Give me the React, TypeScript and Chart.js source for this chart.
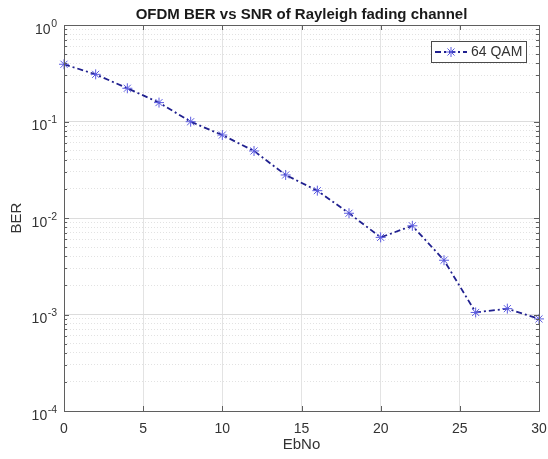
import React, { useEffect, useRef } from "react";
import { Chart, registerables } from "chart.js";

Chart.register(...registerables);

// ---- data ----
const ebno = [0, 2, 4, 6, 8, 10, 12, 14, 16, 18, 20, 22, 24, 26, 28, 30];
const ber = [0.392, 0.308, 0.221, 0.157, 0.0995, 0.0724, 0.0495, 0.0279, 0.0192, 0.0112, 0.0063, 0.0083, 0.00365, 0.00105, 0.00115, 0.0009];
const seriesLabel = "64 QAM";
const chartTitle = "OFDM BER vs SNR of Rayleigh fading channel";
const xTitle = "EbNo";
const yTitle = "BER";
const xTickValues = [0, 5, 10, 15, 20, 25, 30];
const yDecadeExponents = [-4, -3, -2, -1, 0];
const yMinorMantissas = [2, 3, 4, 5, 6, 7, 8, 9];

const FONT = "'Liberation Sans', Arial, Helvetica, sans-serif";
const TEXT = "#333333";
const LINE_COLOR = "#20208f";
const MARKER_COLOR = "#5c5ce0";
const DASH = [6, 3, 2, 3];

const isDecade = (v: number) => Math.abs(Math.log10(v) - Math.round(Math.log10(v))) < 1e-9;

function buildYTicks() {
  const out: { value: number; major: boolean }[] = [];
  yDecadeExponents.forEach((e, i) => {
    out.push({ value: Math.pow(10, e), major: true });
    if (i < yDecadeExponents.length - 1) {
      yMinorMantissas.forEach((m) => out.push({ value: m * Math.pow(10, e), major: false }));
    }
  });
  return out.sort((a, b) => a.value - b.value);
}

const decorPlugin = {
  id: "decor",
  afterDatasetsDraw(chart: any) {
    const { ctx, chartArea: a } = chart;
    const xs = chart.scales.x;
    const ys = chart.scales.y;
    ctx.save();
    ctx.strokeStyle = "#5f5f5f";
    ctx.lineWidth = 1;
    ctx.setLineDash([]);
    // inward tick marks
    ctx.beginPath();
    ys.ticks.forEach((t: any) => {
      const y = Math.round(ys.getPixelForValue(t.value)) + 0.5;
      const len = isDecade(t.value) ? 5 : 3;
      ctx.moveTo(a.left, y);
      ctx.lineTo(a.left + len, y);
      ctx.moveTo(a.right, y);
      ctx.lineTo(a.right - len, y);
    });
    xs.ticks.forEach((t: any) => {
      const x = Math.round(xs.getPixelForValue(t.value)) + 0.5;
      ctx.moveTo(x, a.bottom);
      ctx.lineTo(x, a.bottom - 5);
      ctx.moveTo(x, a.top);
      ctx.lineTo(x, a.top + 5);
    });
    ctx.stroke();
    // box
    ctx.strokeRect(Math.round(a.left) + 0.5, Math.round(a.top) + 0.5, Math.round(a.right - a.left), Math.round(a.bottom - a.top));
    ctx.restore();
  },
  afterDraw(chart: any) {
    const { ctx, chartArea: a } = chart;
    const ys = chart.scales.y;
    ctx.save();
    // title
    ctx.fillStyle = "#1a1a1a";
    ctx.font = `bold 15px ${FONT}`;
    ctx.textAlign = "center";
    ctx.textBaseline = "middle";
    ctx.fillText(chartTitle, (a.left + a.right) / 2, 15);

    // y tick labels 10^n
    ctx.fillStyle = TEXT;
    ys.ticks.forEach((t: any) => {
      if (!isDecade(t.value)) return;
      const y = ys.getPixelForValue(t.value);
      const exp = String(Math.round(Math.log10(t.value)));
      ctx.font = `10.5px ${FONT}`;
      const ew = ctx.measureText(exp).width;
      const xr = a.left - 7;
      ctx.textAlign = "left";
      ctx.textBaseline = "alphabetic";
      ctx.fillText(exp, xr - ew, y + 1.5);
      ctx.font = `14px ${FONT}`;
      ctx.textAlign = "right";
      ctx.fillText("10", xr - ew - 0.5, y + 8.5);
    });

    // legend
    const ds = chart.data.datasets[0];
    const lx = a.right - 108, ly = 41, lw = 95, lh = 21;
    ctx.fillStyle = "#ffffff";
    ctx.fillRect(lx, ly, lw, lh);
    ctx.strokeStyle = "#4a4a4a";
    ctx.lineWidth = 1;
    ctx.strokeRect(lx + 0.5, ly + 0.5, lw, lh);
    const cy = ly + lh / 2 + 0.5;
    ctx.strokeStyle = ds.borderColor;
    ctx.lineWidth = ds.borderWidth;
    ctx.setLineDash(DASH);
    ctx.beginPath();
    ctx.moveTo(lx + 4, cy);
    ctx.lineTo(lx + 36, cy);
    ctx.stroke();
    ctx.setLineDash([]);
    ctx.strokeStyle = MARKER_COLOR;
    ctx.lineWidth = 1;
    const mx = lx + 20, r = 5;
    ctx.beginPath();
    for (let k = 0; k < 4; k++) {
      const ang = (k * Math.PI) / 4;
      ctx.moveTo(mx - r * Math.cos(ang), cy - r * Math.sin(ang));
      ctx.lineTo(mx + r * Math.cos(ang), cy + r * Math.sin(ang));
    }
    ctx.stroke();
    ctx.fillStyle = TEXT;
    ctx.font = `14px ${FONT}`;
    ctx.textAlign = "left";
    ctx.textBaseline = "middle";
    ctx.fillText(ds.label, lx + 40, cy);
    ctx.restore();
  },
};

export default function App() {
  const ref = useRef<HTMLCanvasElement | null>(null);
  useEffect(() => {
    if (!ref.current) return;
    const yTicks = buildYTicks();
    const chart = new Chart(ref.current, {
      type: "line",
      data: {
        datasets: [
          {
            label: seriesLabel,
            data: ebno.map((x, i) => ({ x, y: ber[i] })),
            borderColor: LINE_COLOR,
            borderWidth: 1.8,
            borderDash: DASH,
            pointStyle: "star",
            pointRadius: 5,
            pointBorderColor: MARKER_COLOR,
            pointBackgroundColor: MARKER_COLOR,
            pointBorderWidth: 1,
            tension: 0,
            clip: false as any,
          },
        ],
      },
      options: {
        animation: false,
        responsive: false,
        devicePixelRatio: 1,
        layout: { padding: { top: 25, right: 9, bottom: 0, left: 0 } },
        plugins: {
          legend: { display: false },
          title: { display: false },
          tooltip: { enabled: false },
        },
        scales: {
          x: {
            type: "linear",
            min: 0,
            max: 30,
            afterBuildTicks: (s: any) => {
              s.ticks = xTickValues.map((v) => ({ value: v }));
            },
            afterFit: (s: any) => {
              s.height = 48;
              s.paddingLeft = 0;
              s.paddingRight = 0;
            },
            ticks: {
              color: TEXT,
              font: { family: FONT, size: 14 },
              padding: 10,
              maxRotation: 0,
            },
            grid: { color: "#e3e3e3", drawTicks: false, lineWidth: 1 },
            border: { display: false },
            title: {
              display: true,
              text: xTitle,
              color: TEXT,
              font: { family: FONT, size: 15 },
              padding: { top: 0, bottom: 5 },
            },
          },
          y: {
            type: "logarithmic",
            min: 1e-4,
            max: 1,
            afterBuildTicks: (s: any) => {
              s.ticks = yTicks.map((t) => ({ ...t }));
            },
            afterFit: (s: any) => {
              s.width = 64;
              s.paddingTop = 0;
              s.paddingBottom = 0;
            },
            ticks: { display: false },
            grid: {
              drawTicks: false,
              color: (c: any) => (c.tick && isDecade(c.tick.value) ? "#dcdcdc" : "#e2e2e2"),
              lineWidth: 1,
            },
            border: {
              display: false,
              dash: (c: any) => (c.tick && isDecade(c.tick.value) ? [] : [1, 2]),
            } as any,
            title: {
              display: true,
              text: yTitle,
              color: TEXT,
              font: { family: FONT, size: 15 },
              padding: { top: 8, bottom: 0 },
            },
          },
        },
      },
      plugins: [decorPlugin],
    });
    return () => chart.destroy();
  }, []);
  return (
    <div style={{ position: "fixed", left: 0, top: 0, width: 548, height: 459, background: "#fff" }}>
      <canvas ref={ref} width={548} height={459} style={{ width: 548, height: 459, display: "block" }} />
    </div>
  );
}
